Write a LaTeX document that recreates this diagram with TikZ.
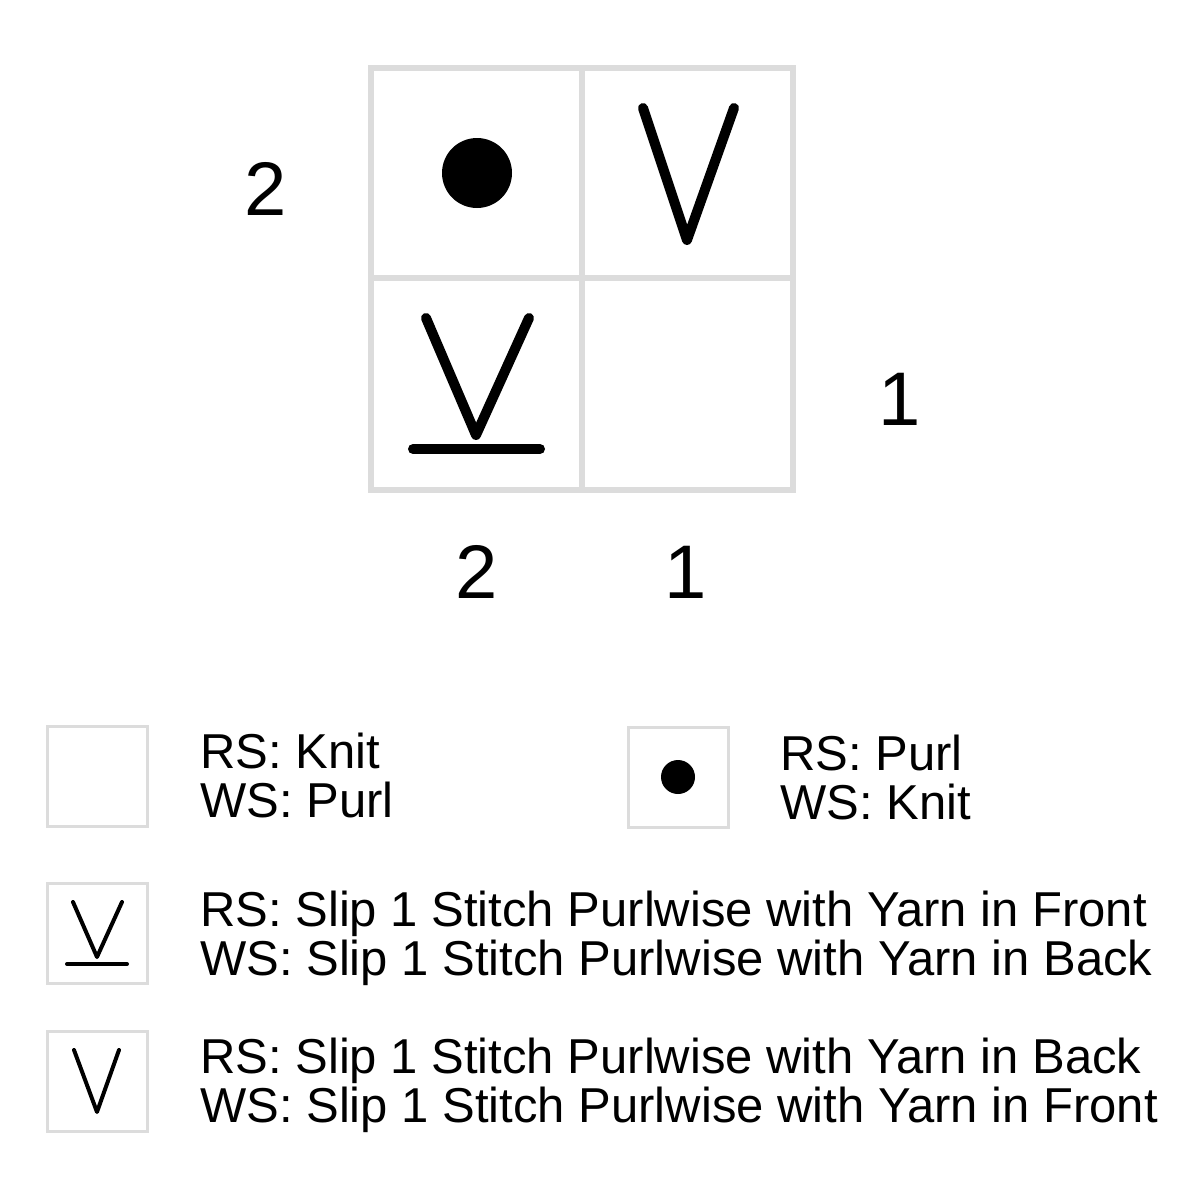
\documentclass[tikz,border=0pt]{standalone}
\usepackage{fontspec}
\setmainfont{Liberation Sans}
\definecolor{gridgray}{HTML}{DCDCDC}
\tikzset{
  gridline/.style={draw=gridgray, line width=6.5pt},
  legbox/.style={draw=gridgray, line width=3pt},
  bigsym/.style={line width=10pt, line cap=round, line join=round},
  smallsym/.style={line width=4pt, line cap=round, line join=round},
  num/.style={anchor=base, inner sep=0pt, font=\fontsize{76}{76}\selectfont},
  legtext/.style={anchor=base west, inner sep=0pt, font=\fontsize{49}{49}\selectfont},
}
\begin{document}
\begin{tikzpicture}[x=1pt,y=-1pt]
\useasboundingbox[fill=white] (0,0) rectangle (1200,1200);
% chart grid
\draw[gridline] (371,68) rectangle (793,490);
\draw[gridline] (582,68) -- (582,490);
\draw[gridline] (371,278) -- (793,278);
% symbols in chart
\fill (477,173) circle (35);
\coordinate (va) at (643,108); \coordinate (vb) at (687,240); \coordinate (vc) at (734,108);
\draw[bigsym] (va) -- (vb) -- (vc);
\coordinate (wa) at (426,318); \coordinate (wb) at (476,435); \coordinate (wc) at (529,318);
\draw[bigsym] (wa) -- (wb) -- (wc);
\coordinate (ua) at (413,449); \coordinate (ub) at (540,449);
\draw[bigsym] (ua) -- (ub);
% numbers
\node[num] (r2) at (266,215) {2};
\node[num] (r1) at (900,425) {1};
\node[num] (c2) at (477,598) {2};
\node[num] (c1) at (686,598) {1};
% legend
\draw[legbox] (47,726) rectangle (147,826);
\node[legtext] (t1a) at (200,768) {RS: Knit};
\node[legtext] (t1b) at (200,817) {WS: Purl};
\draw[legbox] (628,727) rectangle (728,827);
\fill (678,777) circle (17);
\node[legtext] (t2a) at (780,770) {RS: Purl};
\node[legtext] (t2b) at (780,819) {WS: Knit};
\draw[legbox] (47,883) rectangle (147,983);
\draw[smallsym] (73,902) -- (97,957) -- (122,902);
\draw[smallsym] (67,964) -- (127,964);
\node[legtext] (t3a) at (200,926) {RS: Slip 1 Stitch Purlwise with Yarn in Front};
\node[legtext] (t3b) at (200,975) {WS: Slip 1 Stitch Purlwise with Yarn in Back};
\draw[legbox] (47,1031) rectangle (147,1131);
\draw[smallsym] (74,1050) -- (97,1112) -- (119,1050);
\node[legtext] (t4a) at (200,1073) {RS: Slip 1 Stitch Purlwise with Yarn in Back};
\node[legtext] (t4b) at (200,1122) {WS: Slip 1 Stitch Purlwise with Yarn in Front};
\end{tikzpicture}
\end{document}
